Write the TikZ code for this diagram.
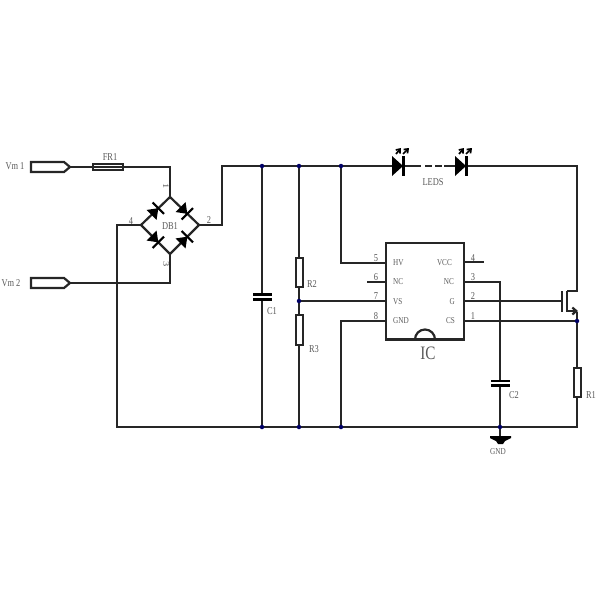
\documentclass[tikz,border=0pt]{standalone}
\usepackage{fontspec}
\setmainfont{Liberation Serif}
\usetikzlibrary{arrows.meta}
\tikzset{
  x=1pt,y=-1pt,
  wire/.style={line width=2.2pt,draw=black!85,line cap=butt,line join=miter},
  junction/.style={circle,fill=black!60!blue,inner sep=0pt,minimum size=4.5pt},
  lbl/.style={inner sep=0pt,font=\fontsize{10.5}{10.5}\selectfont,text=black!65,xscale=.8},
  small lbl/.style={inner sep=0pt,font=\fontsize{9}{9}\selectfont,text=black!65,xscale=.8},
  big lbl/.style={inner sep=0pt,font=\fontsize{19}{19}\selectfont,text=black!65,xscale=.8},
  bridge diode/.pic={
    \fill[black] (-5.5,-7) -- (4,0) -- (-5.5,7) -- cycle;
    \draw[line width=2.2pt,black] (4,-8) -- (4,8);
  },
  led diode/.pic={
    \fill[black] (-6,-10) -- (5,0) -- (-6,10) -- cycle;
    \draw[line width=2.2pt,black] (5.5,-10) -- (5.5,10);
    \draw[line width=1.7pt,black,-{Straight Barb[length=3.5pt,width=5.5pt]}] (-2,-12) -- (3,-18);
    \draw[line width=1.7pt,black,-{Straight Barb[length=3.5pt,width=5.5pt]}] (5,-12) -- (11,-18);
  },
}
\begin{document}
\begin{tikzpicture}
\useasboundingbox (0,0) rectangle (600,600);
% named points
\coordinate (p1) at (70,167);
\coordinate (fa) at (93,167);
\coordinate (fb) at (123,167);
\coordinate (brT) at (170,197);
\coordinate (brL) at (141,225);
\coordinate (brR) at (199,225);
\coordinate (brB) at (170,254);
\coordinate (p2) at (70,283);
\coordinate (cornerA) at (170,167);
\coordinate (cornerB) at (170,283);
\coordinate (cornerC) at (222,225);
\coordinate (cornerD) at (222,166);
\coordinate (cornerE) at (117,225);
\coordinate (cornerF) at (117,427);
\coordinate (cornerG) at (577,427);
\coordinate (cornerH) at (577,166);
\coordinate (j1) at (262,166);
\coordinate (j2) at (299,166);
\coordinate (j3) at (341,166);
\coordinate (j4) at (262,427);
\coordinate (j5) at (299,427);
\coordinate (j6) at (341,427);
\coordinate (j7) at (299,301);
\coordinate (j8) at (577,321);
\coordinate (j9) at (500,427);
\coordinate (led1) at (398,166);
\coordinate (led2) at (461,166);
% pins
\coordinate (pin5) at (387,263);
\coordinate (pin6) at (387,282);
\coordinate (pin7) at (387,301);
\coordinate (pin8) at (387,321);
\coordinate (pin4) at (464,262);
\coordinate (pin3) at (464,282);
\coordinate (pin2) at (464,301);
\coordinate (pin1) at (464,321);
% wires
\draw[wire] (p1) -- (fa);
\draw[wire] (fb) -- (cornerA) -- (brT);
\draw[wire] (p2) -- (cornerB) -- (brB);
\draw[wire] (brT) -- (brL) -- (brB) -- (brR) -- cycle;
\draw[wire] (brR) -- (cornerC) -- (cornerD) -- (led1);
\draw[wire] (led2) -- (cornerH) -- (577,291) -- (567,291);
\draw[wire] (577,312) -- (j8);
\draw[wire] (brL) -- (cornerE) -- (cornerF) -- (cornerG) -- (577,397);
\draw[wire] (j8) -- (577,368);
\draw[wire] (j1) -- (262,295);
\draw[wire] (262,299) -- (j4);
\draw[wire] (j2) -- (299,258);
\draw[wire] (299,287) -- (299,315);
\draw[wire] (299,345) -- (j5);
\draw[wire] (j3) -- (341,263) -- (pin5);
\draw[wire] (j6) -- (341,321) -- (pin8);
\draw[wire] (367,282) -- (pin6);
\draw[wire] (j7) -- (pin7);
\draw[wire] (pin4) -- (484,262);
\draw[wire] (pin3) -- (500,282) -- (500,381);
\draw[wire] (500,385) -- (j9) -- (500,437);
\draw[wire] (pin2) -- (562,301);
\draw[wire] (pin1) -- (j8);
% LED link
\draw[wire] (404,166) -- (421,166);
\draw[wire] (425,166) -- (432,166);
\draw[wire] (435,166) -- (442,166);
\draw[wire] (444,166) -- (456,166);
% connectors
\draw[wire,fill=white] (31,162) -- (64,162) -- (70,167) -- (64,172) -- (31,172) -- cycle;
\draw[wire,fill=white] (31,278) -- (64,278) -- (70,283) -- (64,288) -- (31,288) -- cycle;
% fuse
\draw[wire,fill=white] (93,164) rectangle (123,170);
\draw[wire] (93,167) -- (123,167);
% bridge diodes
\pic[rotate=45] at (155.5,211) {bridge diode};
\pic[rotate=-45] at (184.5,211) {bridge diode};
\pic[rotate=-45] at (155.5,239.5) {bridge diode};
\pic[rotate=45] at (184.5,239.5) {bridge diode};
% LEDs
\pic at (led1) {led diode};
\pic at (led2) {led diode};
% IC
\draw[line width=2.6pt,draw=black!85] (386,243) rectangle (464,339.5);
\draw[wire] (415,339.5) arc[start angle=180,end angle=360,radius=10];
% C1
\draw[line width=2.4pt,black] (253,294.5) -- (272,294.5);
\draw[line width=2.4pt,black] (253,299.5) -- (272,299.5);
% C2
\draw[line width=2.4pt,black] (491,381) -- (510,381);
\draw[line width=2.4pt,black] (491,385.5) -- (510,385.5);
% R
\draw[wire,fill=white] (296,258) rectangle (303,287);
\draw[wire,fill=white] (296,315) rectangle (303,345);
\draw[wire,fill=white] (574,368) rectangle (581,397);
% MOSFET
\draw[wire] (562,291) -- (562,312);
\draw[wire] (567,291) -- (567,312);
\draw[wire,-{Straight Barb[length=4pt,width=7pt]}] (567,311) -- (578,311);
% GND
\fill[black] (490,436) -- (511,436) -- (511,438) -- (505,441) -- (503,444) -- (498,444) -- (496,441) -- (490,438) -- cycle;
% junctions
\foreach \j in {j1,j2,j3,j4,j5,j6,j7,j8,j9} \node[junction] at (\j) {};
% labels
\node[lbl] (tVm1) at (15,166) {Vm 1};
\node[lbl] (tVm2) at (11,283) {Vm 2};
\node[lbl] (tFR1) at (110,157) {FR1};
\node[lbl,rotate=-90] (t1) at (166,186) {1};
\node[lbl] (t2) at (209,220) {2};
\node[lbl,rotate=-90] (t3) at (166,264) {3};
\node[lbl] (t4) at (131,221) {4};
\node[lbl] (tDB1) at (170,226) {DB1};
\node[lbl] (tLEDS) at (433,182) {LEDS};
\node[lbl] (tC1) at (272,311) {C1};
\node[lbl] (tR2) at (312,284) {R2};
\node[lbl] (tR3) at (314,349) {R3};
\node[lbl] (tC2) at (514,395) {C2};
\node[lbl] (tR1) at (591,395) {R1};
\node[small lbl] (tGND) at (498,452) {GND};
\node[big lbl] (tIC) at (428,353) {IC};
\node[lbl] (n5) at (376,258) {5};
\node[lbl] (n6) at (376,277) {6};
\node[lbl] (n7) at (376,296) {7};
\node[lbl] (n8) at (376,316) {8};
\node[lbl] (n4) at (473,258) {4};
\node[lbl] (n3) at (473,277) {3};
\node[lbl] (n2) at (473,296) {2};
\node[lbl] (n1) at (473,316) {1};
\node[small lbl,anchor=west] (sHV) at (393,263) {HV};
\node[small lbl,anchor=west] (sNCl) at (393,282) {NC};
\node[small lbl,anchor=west] (sVS) at (393,302) {VS};
\node[small lbl,anchor=west] (sGND) at (393,321) {GND};
\node[small lbl,anchor=east] (sVCC) at (452,263) {VCC};
\node[small lbl,anchor=east] (sNCr) at (454,282) {NC};
\node[small lbl,anchor=east] (sG) at (455,302) {G};
\node[small lbl,anchor=east] (sCS) at (455,321) {CS};
\end{tikzpicture}
\end{document}
